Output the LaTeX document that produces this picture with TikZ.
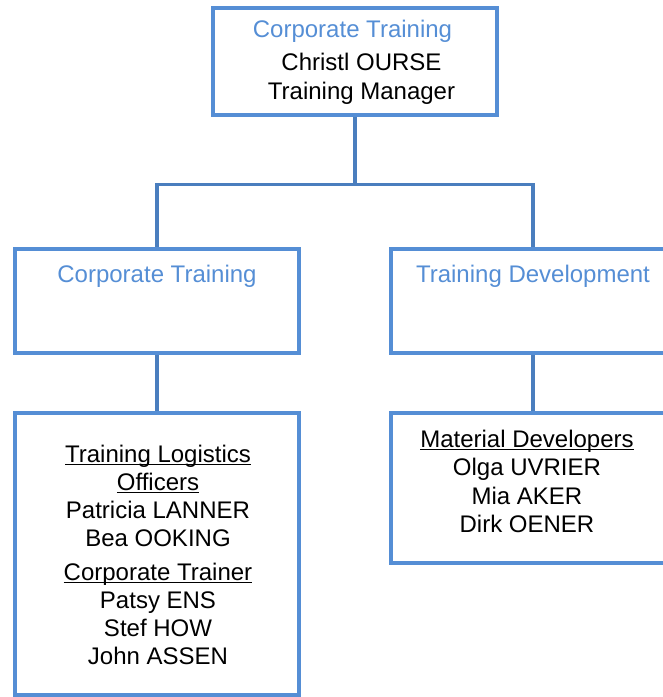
\documentclass[tikz,border=0pt]{standalone}
\usepackage{fontspec}
\setmainfont{Liberation Sans}
\usepackage{xcolor}
\usepackage{tikz}
\usetikzlibrary{positioning}

\definecolor{boxblue}{RGB}{85,142,213}
\definecolor{linkblue}{RGB}{74,126,190}

\newcommand{\ulined}[1]{\setbox0\hbox{#1}\rlap{\rule[-3pt]{\wd0}{1.4pt}}\box0}

\begin{document}
\begin{tikzpicture}[x=1pt, y=1pt,
    box/.style={draw=boxblue, line width=4.5pt, inner sep=0pt, minimum width=284pt},
    link/.style={draw=linkblue, line width=3.2pt},
    names/.style={inner sep=0pt, anchor=north, align=center, font=\fontsize{24}{28}\selectfont},
    unit/.style={names, text=boxblue}]
      \clip (0,0) rectangle (663,-697);

      % Define the boxes
      \node[box, minimum height=107pt] (head) at (355,-61.5) {};
      \node[box, minimum height=104pt] (corp) at (157,-301) {};
      \node[box, minimum height=104pt] (dev) at (533,-301) {};
      \node[box, minimum height=282pt] (staff) at (157,-554) {};
      \node[box, minimum height=150pt] (writers) at (533,-488) {};

      % Connect them
      \draw[link] (head.south) -- ++(0,-67) coordinate (split);
      \draw[link] (corp.north) |- (split) -| (dev.north);
      \draw[link] (corp.south) -- (staff.north);
      \draw[link] (dev.south) -- (writers.north);

      % Label the boxes
      \node[names, font=\fontsize{24}{29}\selectfont] (headtext) at (355,-19.5)
        {\textcolor{boxblue}{Corporate Training}\hspace*{5pt}\\[4pt]
         \hspace*{13pt}Christl OURSE\\\hspace*{13pt}Training Manager};
      \node[unit] (corptext) at (157,-264.5) {Corporate Training};
      \node[unit] (devtext) at (533,-264.5) {Training Development};
      \node[names] (stafftext) at (158,-444.5)
        {\ulined{Training Logistics}\\\ulined{Officers}\\Patricia LANNER\\Bea OOKING\\[6pt]
         \ulined{Corporate Trainer}\\Patsy ENS\\Stef HOW\\John ASSEN};
      \node[names, font=\fontsize{24}{28.5}\selectfont] (writerstext) at (527,-429.5)
        {\ulined{Material Developers}\\Olga UVRIER\\Mia AKER\\Dirk OENER};
    \end{tikzpicture}
\end{document}
